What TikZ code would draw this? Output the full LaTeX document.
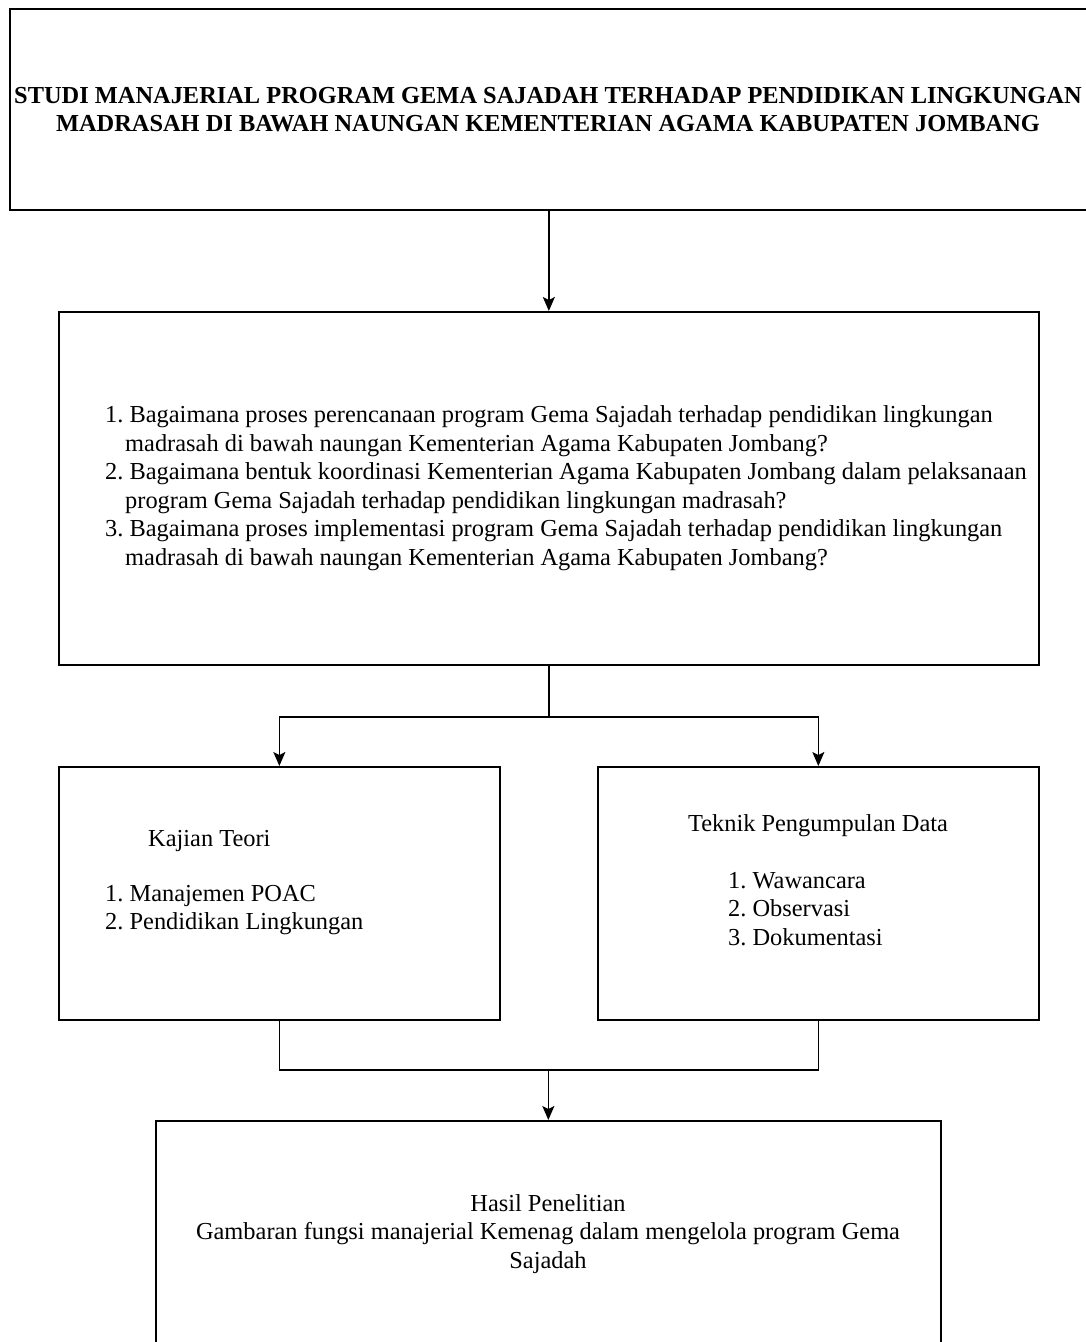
\documentclass[tikz,border=0pt]{standalone}
\usepackage{fontspec}
\setmainfont{Liberation Serif}
\usetikzlibrary{arrows.meta}
\frenchspacing
\begin{document}
\begin{tikzpicture}[x=1pt,y=-1pt,
		kotak/.style={draw,line width=1.7pt,inner sep=0pt,anchor=north west},
		teks/.style={font=\fontsize{24.4}{28.5}\selectfont,inner sep=0pt,align=left},
		panah/.style={line width=1.7pt,-{Stealth[length=14pt,width=12pt,inset=3pt]}}]
		\clip (0,0) rectangle (1086,1342);
		% kotak-kotak
		\node[kotak,minimum width=1110pt,minimum height=201pt] (judul) at (9,8) {};
		\node[kotak,minimum width=980pt,minimum height=353pt] (rumusan) at (58,311) {};
		\node[kotak,minimum width=441pt,minimum height=253pt] (kajian) at (58,766) {};
		\node[kotak,minimum width=441pt,minimum height=253pt] (teknik) at (597,766) {};
		\node[kotak,minimum width=785pt,minimum height=300pt] (hasil) at (155,1120) {};
		% isi
		\node[teks,align=center,font=\fontsize{24.4}{28}\selectfont\bfseries] (judulteks) at (548,110)
		{STUDI MANAJERIAL PROGRAM GEMA SAJADAH TERHADAP PENDIDIKAN LINGKUNGAN\\
			MADRASAH DI BAWAH NAUNGAN KEMENTERIAN AGAMA KABUPATEN JOMBANG};
		\node[teks,anchor=west] (rumusanteks) at (105,488)
		{1. Bagaimana proses perencanaan program Gema Sajadah terhadap pendidikan lingkungan\\
			\hspace*{20pt}madrasah di bawah naungan Kementerian Agama Kabupaten Jombang?\\
			2. Bagaimana bentuk koordinasi Kementerian Agama Kabupaten Jombang dalam pelaksanaan\\
			\hspace*{20pt}program Gema Sajadah terhadap pendidikan lingkungan madrasah?\\
			3. Bagaimana proses implementasi program Gema Sajadah terhadap pendidikan lingkungan\\
			\hspace*{20pt}madrasah di bawah naungan Kementerian Agama Kabupaten Jombang?};
		\node[teks,anchor=west] (kajianjudul) at (148,841) {Kajian Teori};
		\node[teks,anchor=west] (kajianisi) at (105,910) {1. Manajemen POAC\\2. Pendidikan Lingkungan};
		\node[teks] (teknikjudul) at (818,826) {Teknik Pengumpulan Data};
		\node[teks,anchor=west] (teknikisi) at (728,909) {1. Wawancara\\2. Observasi\\3. Dokumentasi};
		\node[teks,align=center] (hasilteks) at (548,1234)
		{Hasil Penelitian\\Gambaran fungsi manajerial Kemenag dalam mengelola program Gema\\Sajadah};
		% garis
		\draw[panah] (rumusan.north |- judul.south) -- (rumusan.north);
		\draw[line width=1.7pt] (rumusan.south) -- ++(0,51) coordinate (cabang);
		\draw[panah] (cabang) -| (kajian.north);
		\draw[panah] (cabang) -| (teknik.north);
		\coordinate (gabung) at (hasil.north |- 0,1070);
		\draw[line width=1.7pt] (kajian.south) |- (gabung) -| (teknik.south);
		\draw[panah] (gabung) -- (hasil.north);
	\end{tikzpicture}
\end{document}
